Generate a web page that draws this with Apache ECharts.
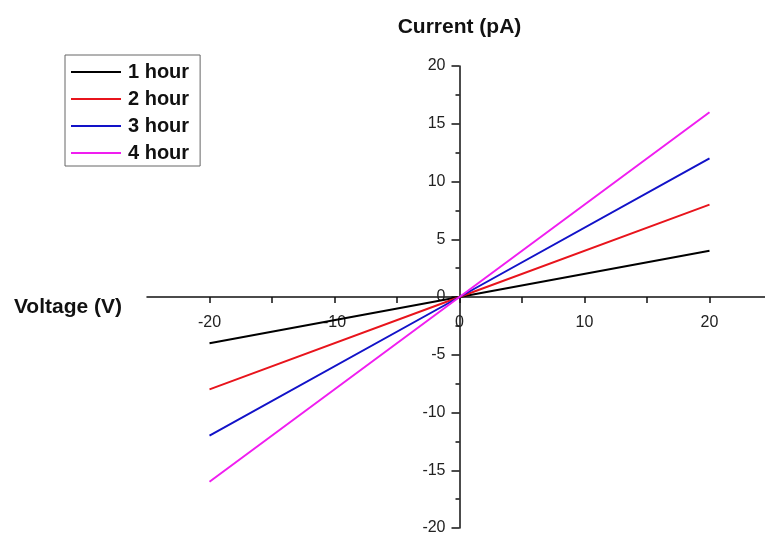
<!DOCTYPE html>
<html>
<head>
<meta charset="utf-8">
<script src="https://cdn.jsdelivr.net/npm/echarts@6/dist/echarts.min.js"></script>
<style>
  html, body { margin: 0; padding: 0; background: #fff; }
  #chart { width: 765px; height: 537px; }
</style>
</head>
<body>
<div id="chart"></div>
<script>
// voltage sweep (V)
const voltage = [-20, 0, 20];
// current (pA) per exposure time
const names = ["1 hour", "2 hour", "3 hour", "4 hour"];
const current1 = [-4, 0, 4];
const current2 = [-8, 0, 8];
const current3 = [-12, 0, 12];
const current4 = [-16, 0, 16];
const colors = ["#000000", "#e8141c", "#1212c8", "#f01ef0"];

const allCurrents = [current1, current2, current3, current4];

const font = "Liberation Sans, Arial, sans-serif";

const series = allCurrents.map((vals, i) => ({
  name: names[i],
  type: "line",
  symbol: "none",
  data: voltage.map((v, j) => [v, vals[j]]),
  lineStyle: { color: colors[i], width: 2 },
  itemStyle: { color: colors[i] },
  z: 3,
}));

// grid box: x from -25..25 over 625px, y from -20..20 over 462px
const gridLeft = 147, gridRight = -7, gridTop = 66, gridBottom = 9;
const plotW = 765 - gridLeft - gridRight;
const plotH = 537 - gridTop - gridBottom;
// shift the axes so they cross at the origin (labels follow the line)
const yAxisOffset = -plotW * (0 - -25) / 50;
const xAxisOffset = -plotH * (0 - -20) / 40;

const chart = echarts.init(document.getElementById("chart"));
chart.setOption({
  animation: false,
  textStyle: { fontFamily: font },
  grid: { left: gridLeft, right: gridRight, top: gridTop, bottom: gridBottom, outerBoundsMode: "none", containLabel: false },
  legend: {
    orient: "vertical",
    left: 65,
    top: 55,
    padding: [7, 11, 3, 6],
    icon: "rect",
    itemWidth: 50,
    itemHeight: 2,
    itemGap: 7,
    borderColor: "#666",
    borderWidth: 1,
    textStyle: { fontSize: 20, fontWeight: "bold", color: "#111", fontFamily: font, padding: [0, 0, 0, 2] },
    data: names,
  },
  xAxis: {
    type: "value",
    min: -25,
    max: 25,
    interval: 5,
    offset: xAxisOffset,
    name: "Voltage (V)",
    nameLocation: "start",
    nameGap: 25,
    nameTextStyle: { fontSize: 21, fontWeight: "bold", color: "#111", verticalAlign: "top" },
    splitLine: { show: false },
    axisLine: { onZero: false, lineStyle: { color: "#111", width: 1.5 } },
    axisTick: { inside: false, length: 6, lineStyle: { color: "#111", width: 1.5 } },
    axisLabel: {
      margin: 18,
      fontSize: 16,
      color: "#222",
      showMinLabel: false,
      showMaxLabel: false,
      formatter: (v) => (v % 10 === 0 ? String(v) : ""),
    },
  },
  yAxis: {
    type: "value",
    min: -20,
    max: 20,
    interval: 5,
    offset: yAxisOffset,
    name: "Current (pA)",
    nameLocation: "end",
    nameGap: 28,
    nameTextStyle: { fontSize: 21, fontWeight: "bold", color: "#111" },
    splitLine: { show: false },
    axisLine: { onZero: false, lineStyle: { color: "#111", width: 1.5 } },
    axisTick: { length: 8, lineStyle: { color: "#111", width: 1.5 } },
    minorTick: { show: true, splitNumber: 2, length: 4, lineStyle: { color: "#111", width: 1.5 } },
    axisLabel: { margin: 14, fontSize: 16, color: "#222" },
  },
  series: series,
});
</script>
</body>
</html>
